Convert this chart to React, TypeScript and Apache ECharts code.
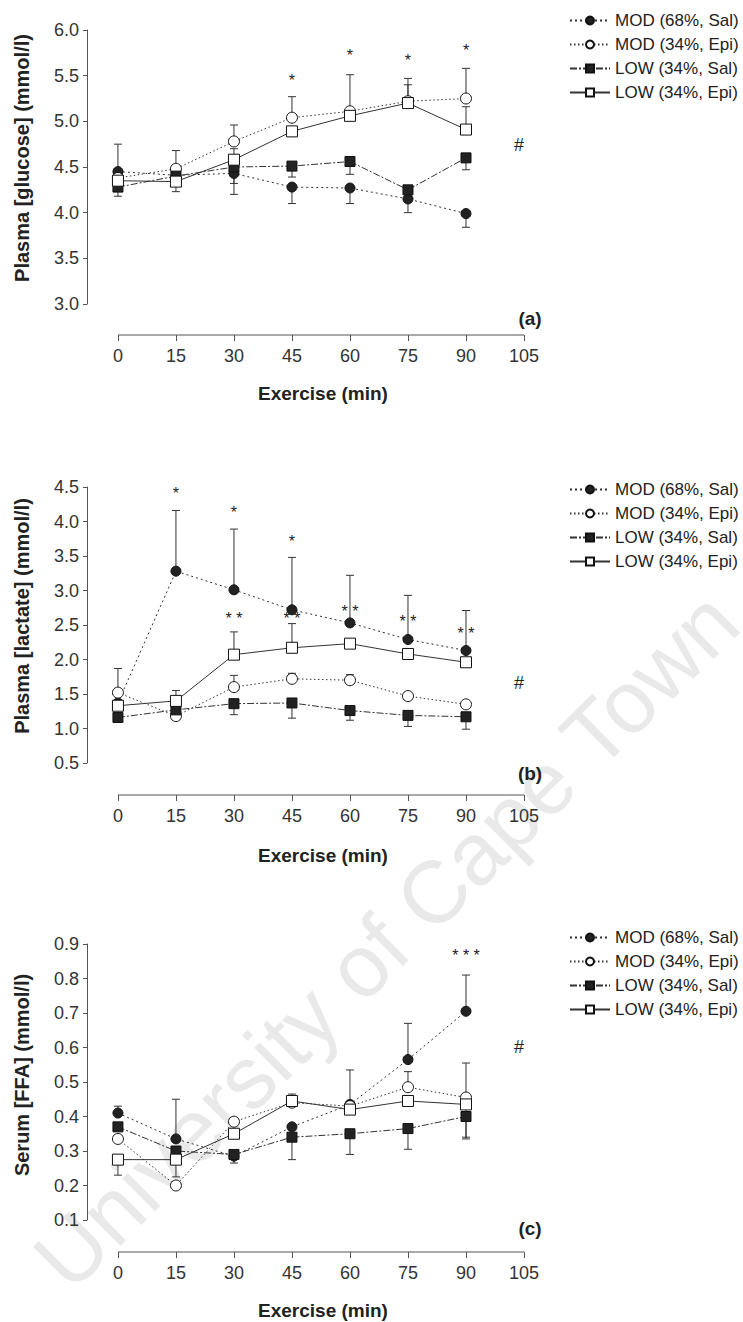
import React, { useEffect, useRef } from "react";
import * as echarts from "echarts";

// Sampling times (min) and group names
const minutes = [0, 15, 30, 45, 60, 75, 90];
const minuteTicks = [0, 15, 30, 45, 60, 75, 90, 105];
const groupNames = ["MOD (68%, Sal)", "MOD (34%, Epi)", "LOW (34%, Sal)", "LOW (34%, Epi)"];

// (a) Plasma glucose, mmol/l — means and signed SEM (+ drawn up, - drawn down)
const glucoseModSal = [4.45, 4.41, 4.43, 4.28, 4.27, 4.15, 3.99];
const glucoseModEpi = [4.38, 4.48, 4.78, 5.04, 5.11, 5.22, 5.25];
const glucoseLowSal = [4.28, 4.40, 4.50, 4.51, 4.56, 4.25, 4.60];
const glucoseLowEpi = [4.35, 4.34, 4.58, 4.89, 5.06, 5.20, 4.91];
const glucoseModSalErr = [0.30, 0, -0.23, -0.18, -0.17, -0.15, -0.15];
const glucoseModEpiErr = [0, 0.20, 0.18, 0.23, 0.40, 0.25, 0.33];
const glucoseLowSalErr = [-0.10, -0.17, -0.18, -0.12, -0.14, 0, -0.13];
const glucoseLowEpiErr = [0, 0, 0.12, 0, 0, 0.20, 0.25];
const glucoseStarMinutes = [45, 60, 75, 90];
const glucoseStarLevels = [5.45, 5.72, 5.67, 5.78];
const glucoseStarLabels = ["*", "*", "*", "*"];

// (b) Plasma lactate, mmol/l
const lactateModSal = [1.37, 3.28, 3.01, 2.72, 2.53, 2.29, 2.13];
const lactateModEpi = [1.52, 1.18, 1.60, 1.72, 1.70, 1.47, 1.35];
const lactateLowSal = [1.16, 1.27, 1.36, 1.37, 1.26, 1.19, 1.17];
const lactateLowEpi = [1.33, 1.40, 2.07, 2.17, 2.23, 2.08, 1.96];
const lactateModSalErr = [0, 0.88, 0.88, 0.76, 0.69, 0.64, 0.58];
const lactateModEpiErr = [0.35, 0, 0.17, 0.08, 0.08, 0, 0];
const lactateLowSalErr = [0, -0.10, -0.16, -0.22, -0.14, -0.16, -0.18];
const lactateLowEpiErr = [0, 0.15, 0.33, 0.35, 0, 0, 0];
const lactateStarMinutes = [15, 30, 45, 30, 45, 60, 75, 90];
const lactateStarLevels = [4.41, 4.13, 3.71, 2.6, 2.6, 2.69, 2.55, 2.38];
const lactateStarLabels = ["*", "*", "*", "* *", "* *", "* *", "* *", "* *"];

// (c) Serum free fatty acids, mmol/l
const ffaModSal = [0.41, 0.335, 0.285, 0.37, 0.435, 0.565, 0.705];
const ffaModEpi = [0.335, 0.20, 0.385, 0.44, 0.43, 0.485, 0.455];
const ffaLowSal = [0.37, 0.30, 0.29, 0.34, 0.35, 0.365, 0.40];
const ffaLowEpi = [0.275, 0.275, 0.35, 0.445, 0.42, 0.445, 0.435];
const ffaModSalErr = [0.02, 0.115, 0, 0, 0.10, 0.105, 0.105];
const ffaModEpiErr = [0, 0, 0, 0.025, 0, 0.045, 0.10];
const ffaLowSalErr = [0, 0, -0.025, -0.065, -0.06, -0.06, -0.065];
const ffaLowEpiErr = [-0.045, -0.05, 0, 0, 0, 0, -0.095];
const ffaStarMinutes = [90];
const ffaStarLevels = [0.866];
const ffaStarLabels = ["* * *"];

const FONT = "'Liberation Sans', Arial, Helvetica, sans-serif";
const INK = "#222";
const AXIS = "#555";

// The y axis stands a little to the left of minute 0, so the time scale
// starts slightly below zero; the time axis line itself runs 0–105.
const GRID_LEFT = 87;
const GRID_WIDTH = 437;
const X_MIN = -8;
const X_MAX = 105;

const panels = [
  {
    top: 30, height: 274, min: 3, max: 6, interval: 0.5, xOffset: 31,
    title: "Plasma [glucose] (mmol/l)", titleY: 158, xTitleY: 393, tag: "(a)", tagY: 318, hashY: 145, legendTop: 7,
    values: [glucoseModSal, glucoseModEpi, glucoseLowSal, glucoseLowEpi],
    errors: [glucoseModSalErr, glucoseModEpiErr, glucoseLowSalErr, glucoseLowEpiErr],
    starMinutes: glucoseStarMinutes, starLevels: glucoseStarLevels, starLabels: glucoseStarLabels,
  },
  {
    top: 487, height: 276, min: 0.5, max: 4.5, interval: 0.5, xOffset: 32,
    title: "Plasma [lactate] (mmol/l)", titleY: 616, xTitleY: 855, tag: "(b)", tagY: 773, hashY: 683, legendTop: 476,
    values: [lactateModSal, lactateModEpi, lactateLowSal, lactateLowEpi],
    errors: [lactateModSalErr, lactateModEpiErr, lactateLowSalErr, lactateLowEpiErr],
    starMinutes: lactateStarMinutes, starLevels: lactateStarLevels, starLabels: lactateStarLabels,
  },
  {
    top: 944, height: 276, min: 0.1, max: 0.9, interval: 0.1, xOffset: 32,
    title: "Serum [FFA] (mmol/l)", titleY: 1075, xTitleY: 1310, tag: "(c)", tagY: 1228, hashY: 1047, legendTop: 924,
    values: [ffaModSal, ffaModEpi, ffaLowSal, ffaLowEpi],
    errors: [ffaModSalErr, ffaModEpiErr, ffaLowSalErr, ffaLowEpiErr],
    starMinutes: ffaStarMinutes, starLevels: ffaStarLevels, starLabels: ffaStarLabels,
  },
];

// Marker and line look of each group
const groupStyles = [
  { symbol: "circle", size: 10, fill: "#222", dash: [2, 3] as number[] | string },
  { symbol: "circle", size: 11, fill: "#fff", dash: [1.5, 2.5] as number[] | string },
  { symbol: "rect", size: 10, fill: "#222", dash: [7, 2, 2, 2] as number[] | string },
  { symbol: "rect", size: 11, fill: "#fff", dash: "solid" as number[] | string },
];

function buildOption() {
  const grid = panels.map((p) => ({
    left: GRID_LEFT, width: GRID_WIDTH, top: p.top, height: p.height, containLabel: false,
  }));

  const xAxis = panels.map((p, i) => ({
    type: "value", gridIndex: i, position: "bottom", min: X_MIN, max: X_MAX, offset: p.xOffset,
    axisLine: { show: false },
    axisTick: { show: true, inside: false, length: 6, lineStyle: { color: AXIS }, customValues: minuteTicks },
    axisLabel: { color: "#333", fontSize: 18, fontFamily: FONT, margin: 12, customValues: minuteTicks },
    splitLine: { show: false },
  }));

  const yAxis = panels.map((p, i) => ({
    type: "value", gridIndex: i, position: "left", min: p.min, max: p.max, interval: p.interval,
    axisLine: { show: true, onZero: false, lineStyle: { color: AXIS, width: 1 } },
    axisTick: { show: true, inside: false, length: 4, lineStyle: { color: AXIS } },
    axisLabel: {
      color: "#333", fontSize: 18, fontFamily: FONT, margin: 8,
      formatter: (v: number) => v.toFixed(1),
    },
    splitLine: { show: false },
  }));

  const series: any[] = [];
  panels.forEach((p, i) => {
    // time axis line, from minute 0 to 105, dropped below the plot
    series.push({
      type: "custom",
      name: "time axis " + i,
      xAxisIndex: i, yAxisIndex: i, z: 1, silent: true, clip: false,
      itemStyle: { color: AXIS },
      encode: { x: [0, 1], y: 2 },
      data: [[0, X_MAX, p.min]],
      renderItem: (params: any, api: any) => {
        const a = api.coord([api.value(0), api.value(2)]);
        const b = api.coord([api.value(1), api.value(2)]);
        const y = a[1] + p.xOffset;
        return {
          type: "line",
          shape: { x1: a[0], y1: y, x2: b[0], y2: y },
          style: { stroke: AXIS, lineWidth: 1 },
        };
      },
    });
    p.values.forEach((vals, k) => {
      const st = groupStyles[k];
      const errs = p.errors[k];
      series.push({
        type: "custom",
        name: groupNames[k] + " SEM",
        xAxisIndex: i, yAxisIndex: i, z: 2, silent: true,
        itemStyle: { color: "#333" },
        encode: { x: 0, y: 1 },
        data: minutes.map((m, j) => [m, vals[j], errs[j]]),
        renderItem: (params: any, api: any) => {
          const x = api.value(0);
          const y = api.value(1);
          const e = api.value(2);
          if (!e) return null;
          const a = api.coord([x, y]);
          const b = api.coord([x, y + e]);
          return {
            type: "group",
            children: [
              { type: "line", shape: { x1: a[0], y1: a[1], x2: b[0], y2: b[1] }, style: { stroke: "#333", lineWidth: 1 } },
              { type: "line", shape: { x1: b[0] - 4, y1: b[1], x2: b[0] + 4, y2: b[1] }, style: { stroke: "#333", lineWidth: 1 } },
            ],
          };
        },
      });
      series.push({
        type: "line",
        name: groupNames[k],
        xAxisIndex: i, yAxisIndex: i, z: 3,
        data: minutes.map((m, j) => [m, vals[j]]),
        symbol: st.symbol, symbolSize: st.size, showAllSymbol: true,
        itemStyle: { color: st.fill, borderColor: "#111", borderWidth: 1 },
        lineStyle: { color: "#333", width: 1, type: st.dash },
        emphasis: { disabled: true },
      });
    });
    series.push({
      type: "custom",
      name: "significance " + i,
      xAxisIndex: i, yAxisIndex: i, z: 4, silent: true,
      itemStyle: { color: INK },
      encode: { x: 0, y: 1 },
      data: p.starMinutes.map((m, j) => [m, p.starLevels[j]]),
      renderItem: (params: any, api: any) => {
        const c = api.coord([api.value(0), api.value(1)]);
        return {
          type: "text", x: c[0], y: c[1],
          style: {
            text: p.starLabels[params.dataIndex], fill: INK, fontSize: 16, fontFamily: FONT,
            align: "center", verticalAlign: "middle",
          },
        };
      },
    });
  });

  const legend = panels.map((p) => ({
    data: groupNames, orient: "vertical", left: 564, top: p.legendTop,
    itemWidth: 40, itemHeight: 10, itemGap: 7, selectedMode: false,
    textStyle: { fontSize: 17, color: INK, fontFamily: FONT },
  }));

  const graphic: any[] = [
    {
      type: "text", x: 386, y: 940, rotation: 0.78, z: -10, silent: true,
      style: {
        text: "University of Cape Town", fill: "#e9e9e9", fontSize: 88, fontFamily: FONT,
        align: "center", verticalAlign: "middle",
      },
    },
  ];
  panels.forEach((p) => {
    graphic.push({
      type: "text", x: 22, y: p.titleY, rotation: Math.PI / 2,
      style: { text: p.title, fill: INK, fontSize: 20, fontWeight: "bold", fontFamily: FONT, align: "center", verticalAlign: "middle" },
    });
    graphic.push({
      type: "text", x: 323, y: p.xTitleY,
      style: { text: "Exercise (min)", fill: INK, fontSize: 19, fontWeight: "bold", fontFamily: FONT, align: "center", verticalAlign: "middle" },
    });
    graphic.push({
      type: "text", x: 530, y: p.tagY,
      style: { text: p.tag, fill: INK, fontSize: 19, fontWeight: "bold", fontFamily: FONT, align: "center", verticalAlign: "middle" },
    });
    graphic.push({
      type: "text", x: 519, y: p.hashY,
      style: { text: "#", fill: INK, fontSize: 18, fontFamily: FONT, align: "center", verticalAlign: "middle" },
    });
  });

  return {
    animation: false,
    backgroundColor: "#fff",
    grid, xAxis, yAxis, series, legend, graphic,
  };
}

export default function App() {
  const ref = useRef<HTMLDivElement>(null);
  useEffect(() => {
    if (!ref.current) return;
    const chart = echarts.init(ref.current, undefined, { renderer: "svg" });
    chart.setOption(buildOption() as any);
    return () => chart.dispose();
  }, []);
  return (
    <div
      ref={ref}
      style={{ position: "absolute", left: 0, top: 0, width: 743, height: 1322, background: "#fff" }}
    />
  );
}
